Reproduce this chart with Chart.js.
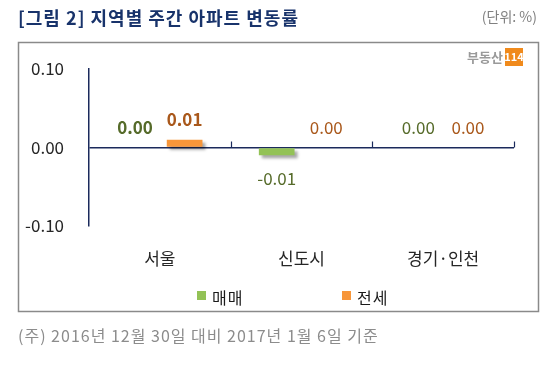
<!DOCTYPE html>
<html>
<head>
<meta charset="utf-8">
<script src="https://cdn.jsdelivr.net/npm/chart.js@4.4.1/dist/chart.umd.min.js"></script>
<style>
  html, body { margin: 0; padding: 0; background: #fff; }
  canvas { display: block; }
</style>
</head>
<body>
<canvas id="chart" width="559" height="368"></canvas>
<script>
var regions = ["서울", "신도시", "경기·인천"];
var sale = [0.00, -0.01, 0.00];
var jeonse = [0.01, 0.00, 0.00];
var yTicks = [-0.1, 0, 0.1];

var NAVY = "#1b2a5c";
var FONT = "'Noto Sans CJK KR', 'Noto Sans', sans-serif";

Chart.defaults.font.family = FONT;

var extras = {
  id: "extras",
  beforeDatasetsDraw: function (chart) {
    var ctx = chart.ctx;
    ctx.save();
    ctx.shadowColor = "rgba(0,0,0,0.35)";
    ctx.shadowOffsetX = 3;
    ctx.shadowOffsetY = 3;
    ctx.shadowBlur = 3;
  },
  afterDatasetsDraw: function (chart) {
    var ctx = chart.ctx;
    ctx.restore();

    var xs = chart.scales.x, ys = chart.scales.y;
    var y0 = ys.getPixelForValue(0);
    var half = (xs.getPixelForValue(1) - xs.getPixelForValue(0)) / 2;

    // small tick marks on the zero line at category boundaries
    ctx.save();
    ctx.strokeStyle = NAVY;
    ctx.lineWidth = 1.2;
    for (var i = 0; i < regions.length; i++) {
      var bx = Math.round(xs.getPixelForValue(i) + half) + 0.5;
      ctx.beginPath();
      ctx.moveTo(bx, y0);
      ctx.lineTo(bx, y0 - 6);
      ctx.stroke();
    }
    ctx.restore();

    // value labels
    var labelColors = ["#566b2a", "#a9581b"];
    chart.data.datasets.forEach(function (ds, di) {
      var meta = chart.getDatasetMeta(di);
      meta.data.forEach(function (bar, idx) {
        var v = ds.data[idx];
        ctx.save();
        ctx.font = (idx === 0 ? "bold " : "") + "17px " + FONT;
        ctx.fillStyle = labelColors[di];
        ctx.textAlign = "center";
        ctx.textBaseline = "middle";
        var ly = v < 0 ? bar.y + 23 : bar.y - 20;
        ctx.fillText(v.toFixed(2), bar.x, ly);
        ctx.restore();
      });
    });
  },
  afterDraw: function (chart) {
    var ctx = chart.ctx;
    ctx.save();

    // title
    ctx.font = "bold 18px " + FONT;
    ctx.letterSpacing = "1px";
    ctx.fillStyle = "#18336b";
    ctx.textAlign = "left";
    ctx.textBaseline = "middle";
    ctx.fillText("[그림 2] 지역별 주간 아파트 변동률", 18, 18);

    ctx.letterSpacing = "0px";
    ctx.font = "14px " + FONT;
    ctx.fillStyle = "#808080";
    ctx.textAlign = "right";
    ctx.fillText("(단위: %)", 537, 17);

    // frame
    ctx.strokeStyle = "#8a8a8a";
    ctx.lineWidth = 1.5;
    ctx.strokeRect(18.5, 42.5, 520, 269);

    // logo
    ctx.font = "bold 13px " + FONT;
    ctx.fillStyle = "#9a9a9a";
    ctx.textAlign = "right";
    ctx.fillText("부동산", 503, 57);
    ctx.fillStyle = "#f08a1c";
    ctx.fillRect(505, 48, 18, 18);
    ctx.font = "bold 11px " + FONT;
    ctx.fillStyle = "#fff";
    ctx.textAlign = "center";
    ctx.fillText("114", 514, 57);

    // legend
    var lx = [197, 342];
    chart.data.datasets.forEach(function (ds, di) {
      ctx.fillStyle = ds.backgroundColor;
      ctx.fillRect(lx[di], 291, 9, 9);
      ctx.font = "16px " + FONT;
      ctx.letterSpacing = "1px";
      ctx.fillStyle = "#1a1a1a";
      ctx.textAlign = "left";
      ctx.fillText(ds.label, lx[di] + 15, 298);
      ctx.letterSpacing = "0px";
    });

    // footnote
    ctx.font = "16px " + FONT;
    ctx.letterSpacing = "1px";
    ctx.fillStyle = "#8c8c8c";
    ctx.textAlign = "left";
    ctx.fillText("(주) 2016년 12월 30일 대비 2017년 1월 6일 기준", 18, 336);

    ctx.restore();
  }
};

new Chart(document.getElementById("chart").getContext("2d"), {
  type: "bar",
  data: {
    labels: regions,
    datasets: [
      { label: "매매", data: sale, backgroundColor: "#93c256" },
      { label: "전세", data: jeonse, backgroundColor: "#f7963a" }
    ]
  },
  options: {
    responsive: false,
    animation: false,
    devicePixelRatio: 1,
    categoryPercentage: 0.7,
    barPercentage: 0.72,
    layout: { padding: { left: 0, right: 45, top: 69, bottom: 0 } },
    plugins: {
      legend: { display: false },
      tooltip: { enabled: false }
    },
    scales: {
      x: {
        grid: { display: false, drawTicks: false },
        border: { display: false },
        ticks: { color: "#262626", font: { size: 17 }, padding: 22 },
        afterFit: function (scale) { scale.height = 368 - 226; }
      },
      y: {
        min: -0.1,
        max: 0.1,
        afterBuildTicks: function (scale) {
          scale.ticks = yTicks.map(function (v) { return { value: v }; });
        },
        grid: {
          drawTicks: false,
          lineWidth: 1.5,
          color: function (c) { return c.tick && c.tick.value === 0 ? NAVY : "rgba(0,0,0,0)"; }
        },
        border: { color: NAVY, width: 1.5 },
        ticks: {
          color: "#262626",
          font: { size: 17 },
          padding: 25,
          callback: function (v) { return Number(v).toFixed(2); }
        },
        afterFit: function (scale) { scale.width = 89; }
      }
    }
  },
  plugins: [extras]
});
</script>
</body>
</html>
